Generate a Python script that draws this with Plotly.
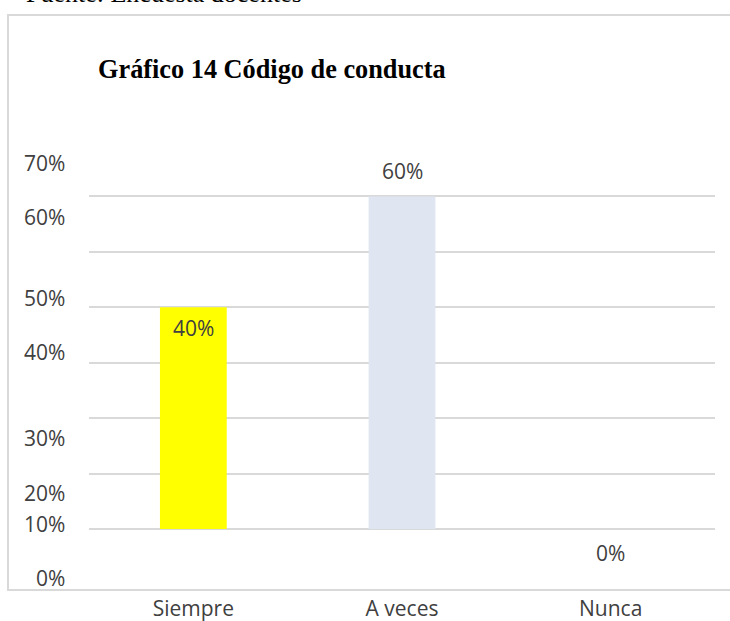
import plotly.graph_objects as go

categories = ["Siempre", "A veces", "Nunca"]
values = [0.40, 0.60, 0.0]
bar_colors = ["#FFFF00", "#DFE6F2", "#DFE6F2"]
tick_vals = [0, 0.1, 0.2, 0.3, 0.4, 0.5, 0.6, 0.7]
tick_labels = ["0%", "10%", "20%", "30%", "40%", "50%", "60%", "70%"]
title_text = "Gráfico 14 Código de conducta"
source_text = "Fuente: Encuesta docentes"

W, H = 730, 621
L, R, T, B = 89, 15, 141, 92   # plot area 89..715, 141..529
pw, ph = W - L - R, H - T - B


def px(x):
    return (x - L) / pw


def py(y):
    return (H - B - y) / ph


fig = go.Figure()

fig.add_trace(go.Bar(
    x=categories,
    y=values,
    width=0.32,
    marker=dict(color=bar_colors, line=dict(width=0)),
    hoverinfo="skip",
))

# bar value labels (offsets as in the original chart)
label_shift = [-21, 25, -24]
for cat, val, dy in zip(categories, values, label_shift):
    fig.add_annotation(
        x=cat, y=val, xref="x", yref="y", yshift=dy,
        text=f"{val:.0%}", showarrow=False,
        font=dict(family="Open Sans", size=21, color="#404040"),
    )

# y tick labels, drawn where the original had them
label_pix = [578, 524, 493, 438, 352, 298, 217, 163]
for lab, yp in zip(tick_labels, label_pix):
    fig.add_annotation(
        x=px(67), y=py(yp), xref="paper", yref="paper",
        xanchor="right", yanchor="middle",
        text=lab, showarrow=False,
        font=dict(family="Open Sans", size=21, color="#404040"),
    )

fig.add_annotation(
    x=px(96), y=py(69), xref="paper", yref="paper",
    xanchor="left", yanchor="middle",
    text=f"<b>{title_text}</b>", showarrow=False,
    font=dict(family="Liberation Serif", size=26.3, color="#000000"),
)

# source line, mostly cut off by the top edge as in the original
fig.add_annotation(
    x=px(24), y=py(-7), xref="paper", yref="paper",
    xanchor="left", yanchor="middle",
    text=source_text, showarrow=False,
    font=dict(family="Liberation Serif", size=26, color="#000000"),
)

# chart frame
fig.add_shape(
    type="rect", xref="paper", yref="paper",
    x0=px(8), x1=px(760), y0=py(590), y1=py(15),
    line=dict(color="#D9D9D9", width=2), layer="below",
)

fig.update_layout(
    width=W, height=H,
    margin=dict(l=L, r=R, t=T, b=B, autoexpand=False),
    paper_bgcolor="white",
    plot_bgcolor="white",
    showlegend=False,
    bargap=0.68,
    xaxis=dict(
        showgrid=False, showline=False, zeroline=False,
        ticks="", ticklabelstandoff=65,
        tickfont=dict(family="Open Sans", size=21, color="#404040"),
    ),
    yaxis=dict(
        range=[0, 0.7],
        tickvals=tick_vals,
        showticklabels=False,
        showgrid=True, gridcolor="#D9D9D9", gridwidth=1.5,
        zeroline=True, zerolinecolor="#D9D9D9", zerolinewidth=1.5,
        showline=False,
    ),
)

fig.write_html("out.html", config={"displayModeBar": False},
               post_script="document.body.style.margin='0px';")
